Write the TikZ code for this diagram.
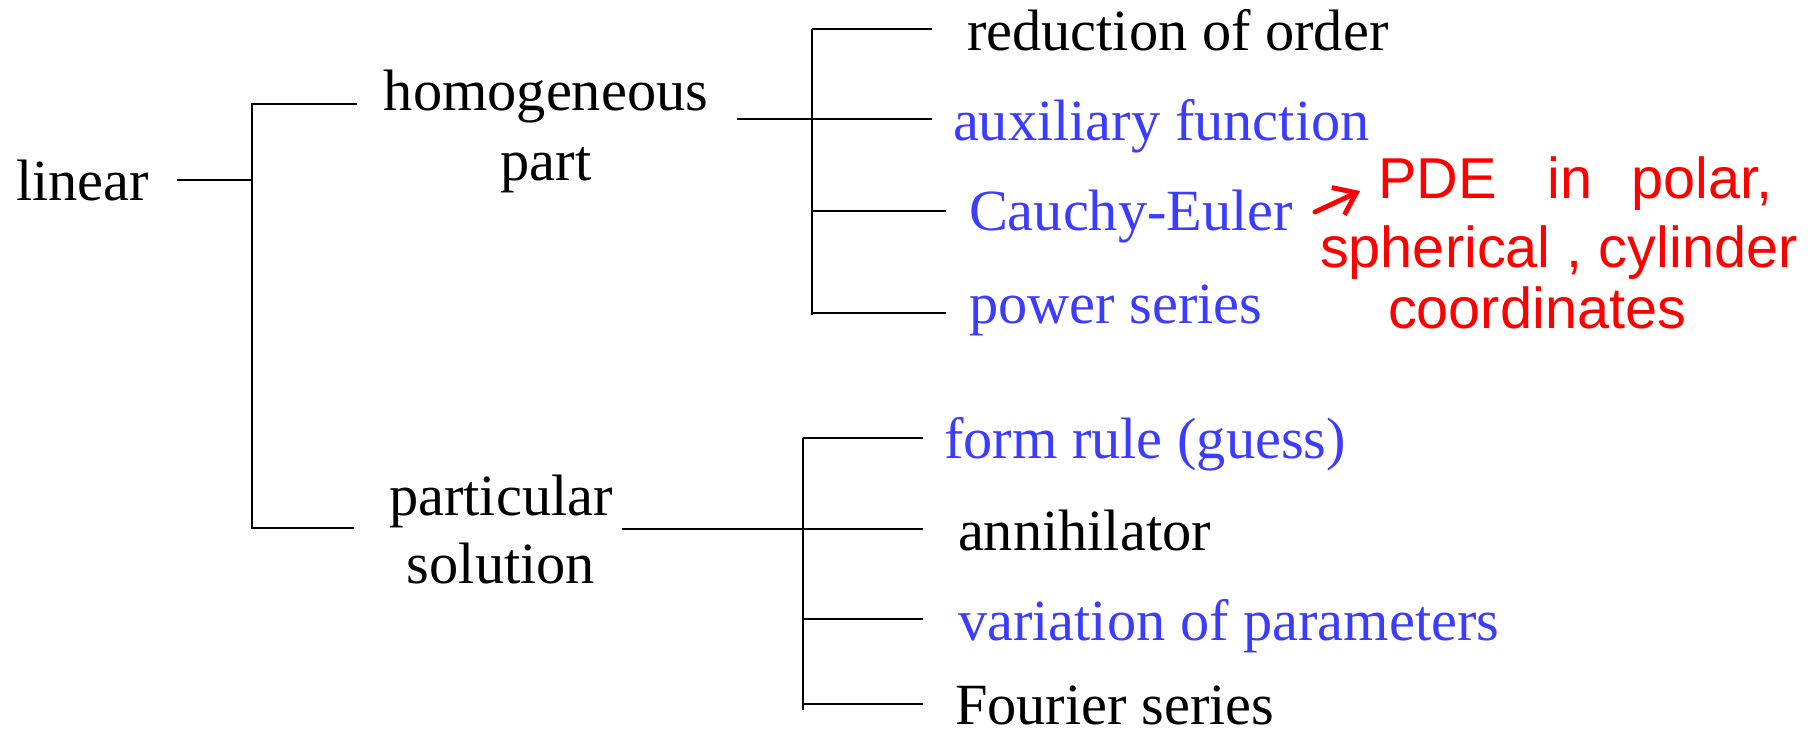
\documentclass[tikz,border=0pt]{standalone}
\usepackage{fontspec}
\setmainfont{Liberation Serif}
\newfontfamily\handfont{Liberation Sans}
\usetikzlibrary{arrows.meta}
\definecolor{itemblue}{RGB}{60,60,255}
\definecolor{notered}{RGB}{255,0,0}
\begin{document}
\begin{tikzpicture}[x=0.01cm,y=-0.01cm,
  lbl/.style={inner sep=0pt,outer sep=0pt,anchor=base west,font=\fontsize{16.6pt}{19.9pt}\selectfont},
  head/.style={inner sep=0pt,outer sep=0pt,anchor=base,align=center},
  blue/.style={text=itemblue},
  conn/.style={line width=0.55pt,black},
  note/.style={inner sep=0pt,outer sep=0pt,anchor=base west,text=notered,font=\handfont\fontsize{16.4pt}{19pt}\selectfont},
  notearrow/.style={draw=notered,line width=1.4pt,line cap=round,line join=round,-{Straight Barb[length=0.2cm,width=0.3cm,line width=1.4pt]}}
]
\useasboundingbox (0,0) rectangle (1811,732);

% main labels (anchor base = baseline of the last line)
\node[lbl] (lin) at (16,200) {linear};
\node[head,font=\fontsize{16.6pt}{19.9pt}\selectfont] (hom) at (546,180) {homogeneous\\part};
\node[head,font=\fontsize{16.6pt}{19.3pt}\selectfont] (par) at (501,583) {particular\\solution};

% homogeneous items
\node[lbl] (r1) at (967,50) {reduction of order};
\node[lbl,blue] (r2) at (953,140) {auxiliary function};
\node[lbl,blue] (r3) at (969,230) {Cauchy-Euler};
\node[lbl,blue] (r4) at (969,323) {power series};

% particular items
\node[lbl,blue] (p1) at (944,458) {form rule (guess)};
\node[lbl] (p2) at (958,550) {annihilator};
\node[lbl,blue] (p3) at (958,640) {variation of parameters};
\node[lbl] (p4) at (955,724) {Fourier series};

% handwritten note
\node[note] (n1) at (1378,198) {PDE\hspace{0.51cm}in\hspace{0.39cm}polar,};
\node[note] (n2) at (1320,267) {spherical , cylinder};
\node[note] (n3) at (1388,328) {coordinates};

% bracket 1: linear
\coordinate (a0) at (177,180);
\coordinate (a1) at (252,180);
\coordinate (at) at (252,104);
\coordinate (ab) at (252,528);
\coordinate (ath) at (357,104);
\coordinate (abp) at (354,528);
\draw[conn] (a0) -- (a1);
\draw[conn] (ath) -- (at) -- (ab) -- (abp);

% bracket 2: homogeneous part
\coordinate (h0) at (737,119);
\coordinate (ht) at (812,29);
\coordinate (hb) at (812,315);
\coordinate (h1) at (932,29);
\coordinate (h2) at (932,119);
\coordinate (h3) at (946,211);
\coordinate (h4) at (946,313);
\draw[conn] (ht) -- (hb);
\draw[conn] (ht) -- (h1);
\draw[conn] (h0) -- (h2);
\draw[conn] (ht |- h3) -- (h3);
\draw[conn] (ht |- h4) -- (h4);

% bracket 3: particular solution
\coordinate (s0) at (622,529);
\coordinate (st) at (803,438);
\coordinate (sb) at (803,710);
\coordinate (s1) at (923,438);
\coordinate (s2) at (923,529);
\coordinate (s3) at (923,619);
\coordinate (s4) at (923,704);
\draw[conn] (st) -- (sb);
\draw[conn] (st) -- (s1);
\draw[conn] (s0) -- (s2);
\draw[conn] (st |- s3) -- (s3);
\draw[conn] (st |- s4) -- (s4);

% red arrow
\coordinate (ar0) at (1315,212);
\coordinate (ar1) at (1360,191);
\draw[notearrow] (ar0) -- (ar1);
\end{tikzpicture}
\end{document}
